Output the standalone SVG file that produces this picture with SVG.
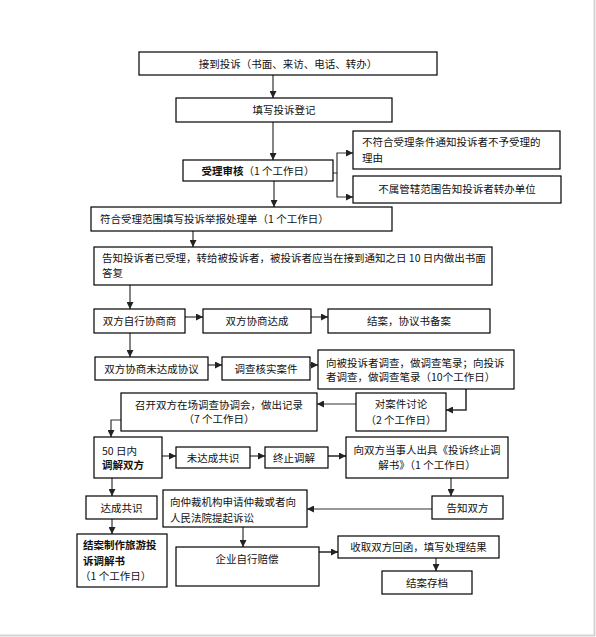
<svg xmlns="http://www.w3.org/2000/svg" width="596" height="637" viewBox="0 0 596 637">
<defs>
<style>
.b{fill:#fff;stroke:#000;stroke-width:1.2}
.t{font-family:"Noto Sans CJK SC","Liberation Sans",sans-serif;font-size:10.5px;fill:#111}
.c{text-anchor:middle}
.k{font-weight:bold}
.l{fill:none;stroke:#333;stroke-width:1.2}
</style>
<marker id="a" viewBox="0 0 10 10" refX="10" refY="5" markerWidth="7" markerHeight="7" orient="auto" markerUnits="userSpaceOnUse"><path d="M0,0 L10,5 L0,10 z" fill="#222"/></marker>
</defs>
<rect x="0" y="0" width="596" height="637" fill="#fff"/>
<line x1="594.5" y1="0" x2="594.5" y2="636" stroke="#d4d4d4" stroke-width="2"/>
<line x1="0" y1="635.5" x2="595" y2="635.5" stroke="#d4d4d4" stroke-width="2"/>

<g id="connectors">
<path class="l" d="M273,75 V98" marker-end="url(#a)"/>
<path class="l" d="M273,122 V160" marker-end="url(#a)"/>
<path class="l" d="M333,173 H337 V153 H353" marker-end="url(#a)"/>
<path class="l" d="M337,173 V197 H353" marker-end="url(#a)"/>
<path class="l" d="M274,181 V207" marker-end="url(#a)"/>
<path class="l" d="M193,231 V247" marker-end="url(#a)"/>
<path class="l" d="M130,285 V309" marker-end="url(#a)"/>
<path class="l" d="M185,317 H203" marker-end="url(#a)"/>
<path class="l" d="M311,317 H328" marker-end="url(#a)"/>
<path class="l" d="M130,333 V357" marker-end="url(#a)"/>
<path class="l" d="M208,365 H222" marker-end="url(#a)"/>
<path class="l" d="M310,365 H318" marker-end="url(#a)"/>
<path class="l" d="M466,389 V410 H446" marker-end="url(#a)" style="stroke-width:1.6"/>
<path class="l" d="M356,404 H317" marker-end="url(#a)"/>
<path class="l" d="M121,420 H111 V437" marker-end="url(#a)"/>
<path class="l" d="M162,456 H176" marker-end="url(#a)"/>
<path class="l" d="M250,456 H265" marker-end="url(#a)"/>
<path class="l" d="M328,456 H346" marker-end="url(#a)" style="stroke-width:1.6"/>
<path class="l" d="M451,478 V496" marker-end="url(#a)"/>
<path class="l" d="M432,509 H307" marker-end="url(#a)"/>
<path class="l" d="M112,478 V496" marker-end="url(#a)"/>
<path class="l" d="M112,519 V534" marker-end="url(#a)"/>
<path class="l" d="M243,527 V547" marker-end="url(#a)"/>
<path class="l" d="M319,552 H338" marker-end="url(#a)" style="stroke-width:1.6"/>
<path class="l" d="M436,558 V571" marker-end="url(#a)"/>
</g>

<g id="n1"><rect class="b" x="139" y="52" width="298" height="23"/><text class="t c" x="288" y="67.5">接到投诉（书面、来访、电话、转办）</text></g>
<g id="n2"><rect class="b" x="176" y="98" width="216" height="24"/><text class="t c" x="284" y="114">填写投诉登记</text></g>
<g id="n3"><rect class="b" x="183" y="160" width="150" height="21"/><text class="t c" x="258" y="174.5"><tspan class="k">受理审核</tspan>（1 个工作日）</text></g>
<g id="n4"><rect class="b" x="353" y="131" width="207" height="38"/><text class="t" x="362" y="146">不符合受理条件通知投诉者不予受理的</text><text class="t" x="362" y="162">理由</text></g>
<g id="n5"><rect class="b" x="353" y="176" width="208" height="27"/><text class="t c" x="457" y="193">不属管辖范围告知投诉者转办单位</text></g>
<g id="n6"><rect class="b" x="91" y="207" width="301" height="24"/><text class="t" x="100" y="223">符合受理范围填写投诉举报处理单（1 个工作日）</text></g>
<g id="n7"><rect class="b" x="94" y="247" width="398" height="38"/><text class="t" x="102" y="262">告知投诉者已受理，转给被投诉者，被投诉者应当在接到通知之日 10 日内做出书面</text><text class="t" x="102" y="277">答复</text></g>
<g id="n8"><rect class="b" x="94" y="309" width="91" height="24"/><text class="t c" x="139.5" y="325">双方自行协商商</text></g>
<g id="n9"><rect class="b" x="203" y="309" width="108" height="24"/><text class="t c" x="257" y="325">双方协商达成</text></g>
<g id="n10"><rect class="b" x="328" y="309" width="162" height="24"/><text class="t c" x="409" y="325">结案，协议书备案</text></g>
<g id="n11"><rect class="b" x="95" y="357" width="113" height="23"/><text class="t c" x="151.5" y="372.5">双方协商未达成协议</text></g>
<g id="n12"><rect class="b" x="222" y="357" width="88" height="23"/><text class="t c" x="266" y="372.5">调查核实案件</text></g>
<g id="n13"><rect class="b" x="318" y="350" width="196" height="39"/><text class="t" x="326" y="367">向被投诉者调查，做调查笔录；向投诉</text><text class="t" x="326" y="381">者调查，做调查笔录（10个工作日）</text></g>
<g id="n14"><rect class="b" x="356" y="393" width="90" height="38"/><text class="t c" x="401" y="408">对案件讨论</text><text class="t c" x="401" y="424">（2 个工作日）</text></g>
<g id="n15"><rect class="b" x="121" y="393" width="196" height="38"/><text class="t c" x="219" y="409">召开双方在场调查协调会，做出记录</text><text class="t c" x="219" y="423">（7 个工作日）</text></g>
<g id="n16"><rect class="b" x="94" y="437" width="68" height="41"/><text class="t" x="102" y="455">50 日内</text><text class="t k" x="102" y="469">调解双方</text></g>
<g id="n17"><rect class="b" x="176" y="447" width="74" height="21"/><text class="t c" x="213" y="461.5">未达成共识</text></g>
<g id="n18"><rect class="b" x="265" y="447" width="63" height="21"/><text class="t" x="273" y="461.5">终止调解</text></g>
<g id="n19"><rect class="b" x="346" y="437" width="162" height="41"/><text class="t c" x="427" y="454">向双方当事人出具《投诉终止调</text><text class="t c" x="427" y="469">解书》（1 个工作日）</text></g>
<g id="n20"><rect class="b" x="432" y="496" width="71" height="23"/><text class="t c" x="467.5" y="511.5">告知双方</text></g>
<g id="n21"><rect class="b" x="163" y="490" width="144" height="37"/><text class="t" x="170" y="506">向仲裁机构申请仲裁或者向</text><text class="t" x="170" y="522">人民法院提起诉讼</text></g>
<g id="n22"><rect class="b" x="86" y="496" width="71" height="23"/><text class="t c" x="121.5" y="511.5">达成共识</text></g>
<g id="n23"><rect class="b" x="77" y="534" width="90" height="53"/><text class="t k" x="83" y="549">结案制作旅游投</text><text class="t k" x="83" y="565">诉调解书</text><text class="t" x="80" y="580">（1 个工作日）</text></g>
<g id="n24"><rect class="b" x="176" y="547" width="143" height="39"/><text class="t c" x="247" y="563">企业自行赔偿</text></g>
<g id="n25"><rect class="b" x="338" y="536" width="161" height="22"/><text class="t c" x="418.5" y="551">收取双方回函，填写处理结果</text></g>
<g id="n26"><rect class="b" x="382" y="571" width="90" height="23"/><text class="t c" x="427" y="586.5">结案存档</text></g>
</svg>
